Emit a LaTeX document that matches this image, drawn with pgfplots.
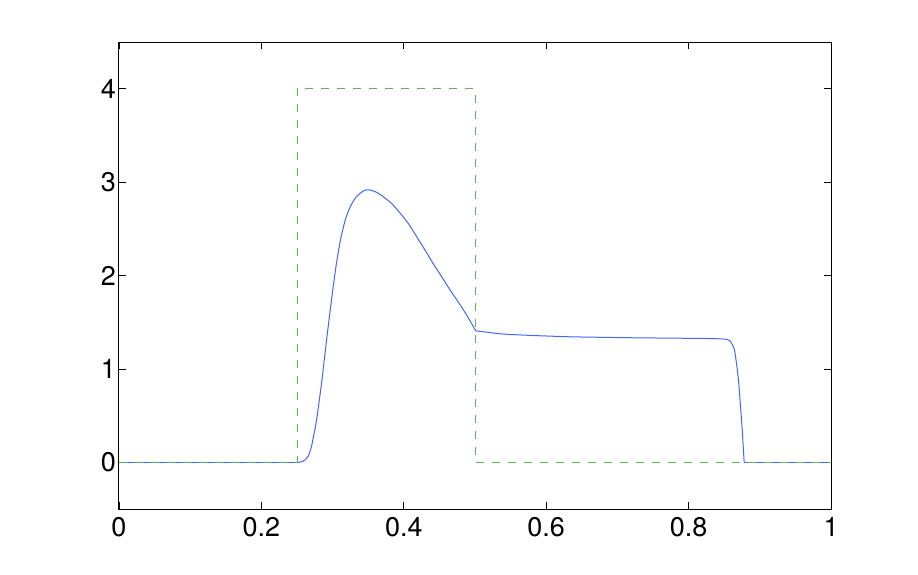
\documentclass[border=0pt]{standalone}
\usepackage{pgfplots}
\pgfplotsset{compat=1.18}
\usepackage{fontspec}
\setmainfont{TeX Gyre Heros}
\definecolor{mblue}{RGB}{70,100,255}
\definecolor{mgreen}{RGB}{90,185,80}
\begin{document}
\begin{tikzpicture}
\begin{axis}[
  scale only axis,
  width=356pt, height=233.5pt,
  xmin=0, xmax=1, ymin=-0.5, ymax=4.5,
  xtick={0,0.2,0.4,0.6,0.8,1},
  ytick={0,1,2,3,4},
  tick align=inside,
  major tick length=3.5pt,
  axis line style={line width=0.5pt},
  every tick/.style={black,line width=0.4pt},
  tick label style={font=\fontsize{13.5}{15}\selectfont},
  /pgf/number format/assume math mode=true,
  xticklabel style={yshift=-0.5pt},
  yticklabel style={xshift=2pt},
]
\addplot[mblue, line width=0.5pt] coordinates {(0,0) (0.25,0)};
\addplot[mblue, line width=0.5pt, smooth, tension=0.4] coordinates {
(0.25,0) (0.254,0.002) (0.258,0.01) (0.262,0.03) (0.266,0.07)
(0.270,0.16) (0.273,0.27) (0.277,0.43) (0.280,0.59) (0.285,0.88)
(0.292,1.34) (0.299,1.77) (0.305,2.11) (0.311,2.38) (0.318,2.60)
(0.325,2.74) (0.333,2.84) (0.343,2.905) (0.348,2.917) (0.353,2.915) (0.362,2.89)
(0.371,2.845) (0.383,2.77) (0.395,2.667) (0.407,2.55) (0.418,2.416)
(0.430,2.27) (0.441,2.13) (0.453,1.99) (0.465,1.845) (0.477,1.71)
(0.488,1.58) (0.501,1.408)
};
\addplot[mblue, line width=0.5pt, smooth, tension=0.4] coordinates {
(0.501,1.408) (0.520,1.39) (0.540,1.373) (0.580,1.358)
(0.633,1.344) (0.680,1.338) (0.727,1.333) (0.780,1.329) (0.821,1.326)
(0.845,1.322) (0.853,1.316) (0.858,1.30) (0.862,1.25) (0.865,1.18)
(0.870,0.88) (0.875,0.38) (0.878,0)
};
\addplot[mblue, line width=0.5pt] coordinates {(0.878,0) (1,0)};
\addplot[mgreen, line width=0.5pt, dash pattern=on 4pt off 4pt] coordinates {
(0,0) (0.25,0) (0.25,4) (0.5,4) (0.5,0) (1,0)
};
\end{axis}
\pgfresetboundingbox
\path ([shift={(-59.5pt,-32.5pt)}]current axis.south west) rectangle ([shift={(43.5pt,21pt)}]current axis.north east);
\end{tikzpicture}
\end{document}
